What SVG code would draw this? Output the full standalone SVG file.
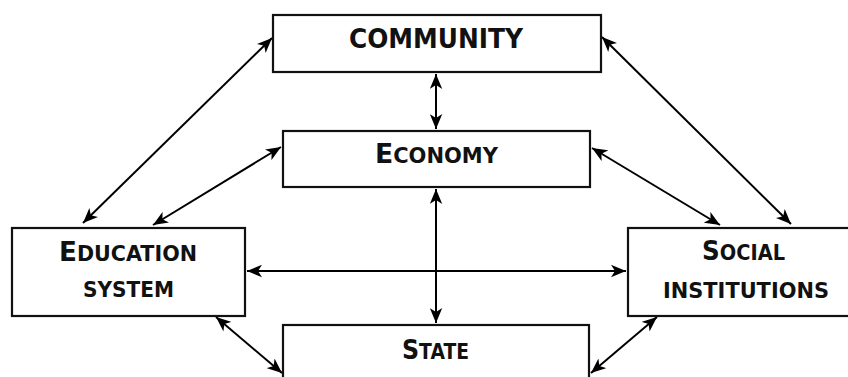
<svg xmlns="http://www.w3.org/2000/svg" width="848" height="377" viewBox="0 0 848 377">
<defs>
<marker id="ah" markerUnits="userSpaceOnUse" markerWidth="16" markerHeight="13" refX="15" refY="6.25" orient="auto-start-reverse" viewBox="0 0 16 12.5">
<path d="M0,0 L15,6.25 L0,12.5 L4,6.25 Z" fill="#000"/>
</marker>
</defs>
<style>
.box{fill:#fff;stroke:#111;stroke-width:2.2}
.lbl{font-family:"DejaVu Sans","Liberation Sans",sans-serif;font-weight:bold;fill:#111;text-anchor:middle}
.big{font-size:26px}
.sm{font-size:20.5px}
.con line{stroke:#000;stroke-width:2;marker-start:url(#ah);marker-end:url(#ah)}
</style>
<rect width="848" height="377" fill="#fff"/>
<g class="con" id="connectors">
<line x1="272" y1="38" x2="83" y2="223"/>
<line x1="281" y1="147" x2="153" y2="225"/>
<line x1="436" y1="74" x2="436" y2="129"/>
<line x1="602" y1="37" x2="791" y2="224"/>
<line x1="592" y1="148" x2="720" y2="225"/>
<line x1="247" y1="271" x2="626" y2="271"/>
<line x1="436" y1="189" x2="436" y2="323"/>
<line x1="216" y1="317" x2="282" y2="373"/>
<line x1="657" y1="317" x2="591" y2="373"/>
</g>
<g id="community">
<rect class="box" x="273" y="15" width="328" height="57"/>
<text class="lbl big" x="436" y="48" textLength="174" lengthAdjust="spacingAndGlyphs">COMMUNITY</text>
</g>
<g id="economy">
<rect class="box" x="283" y="131" width="307" height="56"/>
<text class="lbl" x="436.5" y="163" textLength="123" lengthAdjust="spacingAndGlyphs"><tspan class="big">E</tspan><tspan class="sm">CONOMY</tspan></text>
</g>
<g id="education">
<rect class="box" x="12" y="228" width="233" height="88"/>
<text class="lbl" x="128" y="261" textLength="138" lengthAdjust="spacingAndGlyphs"><tspan class="big">E</tspan><tspan class="sm">DUCATION</tspan></text>
<text class="lbl sm" x="128.5" y="297" textLength="91" lengthAdjust="spacingAndGlyphs">SYSTEM</text>
</g>
<g id="social">
<rect class="box" x="628" y="228" width="240" height="88"/>
<text class="lbl" x="743.5" y="260" textLength="83" lengthAdjust="spacingAndGlyphs"><tspan class="big">S</tspan><tspan class="sm">OCIAL</tspan></text>
<text class="lbl sm" x="746" y="298" textLength="166" lengthAdjust="spacingAndGlyphs">INSTITUTIONS</text>
</g>
<g id="state">
<rect class="box" x="283" y="325" width="306" height="70"/>
<text class="lbl" x="435.5" y="359" textLength="67" lengthAdjust="spacingAndGlyphs"><tspan class="big">S</tspan><tspan class="sm">TATE</tspan></text>
</g>
</svg>
